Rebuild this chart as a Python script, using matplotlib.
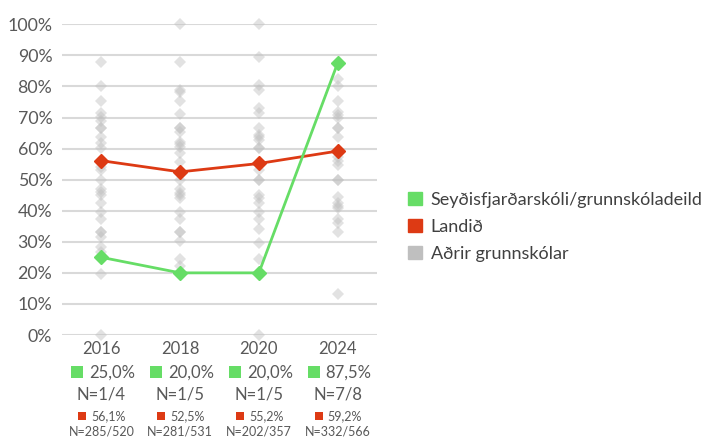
import matplotlib
matplotlib.use("Agg")
import matplotlib.pyplot as plt
from matplotlib.patches import Patch
from matplotlib.transforms import offset_copy

plt.rcParams['font.family'] = ['Lato', 'DejaVu Sans']

# gögn
ar = ['2016', '2018', '2020', '2024']
skoli = [25.0, 20.0, 20.0, 87.5]
skoli_n = ['N=1/4', 'N=1/5', 'N=1/5', 'N=7/8']
landid = [56.1, 52.5, 55.2, 59.2]
landid_n = ['N=285/520', 'N=281/531', 'N=202/357', 'N=332/566']

# aðrir grunnskólar, eitt gildi fyrir hvern skóla
adrir_2016 = [87.8, 80.1, 75.3, 71.4, 70.1, 69.0, 66.6, 66.6, 63.8, 61.7, 60.1, 54.2, 53.1,
              49.9, 46.9, 46.1, 45.0, 42.4, 39.7, 37.3, 33.1, 33.1, 31.4, 28.4, 26.8, 19.5, 0.0]
adrir_2018 = [100.0, 87.8, 79.0, 78.3, 75.3, 71.1, 66.6, 66.6, 65.4, 62.2, 61.5, 60.6, 58.5,
              55.6, 49.9, 47.0, 45.6, 45.0, 44.0, 39.7, 37.3, 33.1, 33.1, 30.3, 24.5, 22.2]
adrir_2020 = [100.0, 89.4, 80.5, 78.9, 73.0, 71.4, 66.6, 64.4, 63.6, 62.8, 60.1, 60.1, 53.1,
              49.9, 49.9, 45.0, 44.0, 42.4, 39.7, 37.3, 34.0, 29.7, 24.5, 0.0]
adrir_2024 = [82.4, 80.1, 75.3, 71.9, 70.8, 69.7, 66.6, 66.6, 63.8, 57.4, 56.1, 54.7, 49.9,
              49.9, 44.3, 42.4, 41.6, 40.8, 37.3, 36.2, 33.1, 13.1]
adrir = [adrir_2016, adrir_2018, adrir_2020, adrir_2024]

graent = '#66dd66'
rautt = '#dd3a14'
grar = '#bfbfbf'
texti = '#595959'

fig = plt.figure(figsize=(7.03, 4.38), dpi=100)
ax = fig.add_axes([62 / 703, 103 / 438, 315 / 703, 310.7 / 438])

x = list(range(len(ar)))
for i, vals in enumerate(adrir):
    ax.plot([i] * len(vals), vals, linestyle='none', marker='D', markersize=6,
            color=grar, alpha=0.45, markeredgewidth=0, clip_on=False, zorder=2)

ax.plot(x, landid, color=rautt, lw=2, marker='D', markersize=7, clip_on=False, zorder=4)
ax.plot(x, skoli, color=graent, lw=2, marker='D', markersize=7, clip_on=False, zorder=5)

ax.set_xlim(-0.5, 3.5)
ax.set_ylim(0, 100)
ax.set_yticks(range(0, 101, 10))
ax.set_yticklabels([f'{v}%' for v in range(0, 101, 10)])
ax.yaxis.grid(True, color='#d9d9d9', lw=1.5)
ax.set_axisbelow(True)
ax.set_xticks([])
for s in ax.spines.values():
    s.set_visible(False)
ax.tick_params(axis='y', length=0, pad=7, labelsize=12.8, labelcolor=texti)

# texti undir ásnum
trans = ax.get_xaxis_transform()
def merki(i, dx, dy, litur, staerd):
    t = offset_copy(trans, fig=fig, x=dx, y=dy, units='dots')
    ax.plot(i, 0, marker='s', markersize=staerd, color=litur, markeredgewidth=0,
            transform=t, clip_on=False)

for i in x:
    ax.annotate(ar[i], (i, 0), xycoords=trans, xytext=(0, -14.3 * 0.72),
                textcoords='offset points', ha='center', va='center', fontsize=12, color=texti)
    merki(i, -24, -37.3, graent, 8)
    ax.annotate(f'{skoli[i]:.1f}%'.replace('.', ','), (i, 0), xycoords=trans,
                xytext=(-12 * 0.72, -37.3 * 0.72), textcoords='offset points',
                ha='left', va='center', fontsize=12, color=texti)
    ax.annotate(skoli_n[i], (i, 0), xycoords=trans, xytext=(0, -59.3 * 0.72),
                textcoords='offset points', ha='center', va='center', fontsize=12, color=texti)
    merki(i, -19, -80.7, rautt, 6)
    ax.annotate(f'{landid[i]:.1f}%'.replace('.', ','), (i, 0), xycoords=trans,
                xytext=(-10 * 0.72, -80.7 * 0.72), textcoords='offset points',
                ha='left', va='center', fontsize=9, color=texti)
    ax.annotate(landid_n[i], (i, 0), xycoords=trans, xytext=(0, -96.7 * 0.72),
                textcoords='offset points', ha='center', va='center', fontsize=9, color=texti)

handles = [Patch(color=graent, label='Seyðisfjarðarskóli/grunnskóladeild'),
           Patch(color=rautt, label='Landið'),
           Patch(color=grar, label='Aðrir grunnskólar')]
fig.legend(handles=handles, loc='center left', bbox_to_anchor=(392 / 703, 1 - 227 / 438),
           frameon=False, fontsize=13, handlelength=0.75, handleheight=0.75,
           handletextpad=0.5, labelspacing=0.6, labelcolor='#404040')

fig.savefig('out.png', dpi=100)
